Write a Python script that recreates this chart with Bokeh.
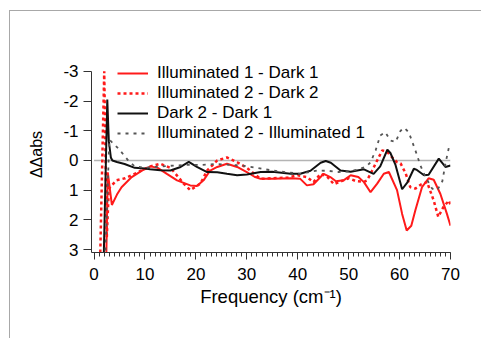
from bokeh.plotting import figure
from bokeh.models import Range1d, FixedTicker, SingleIntervalTicker, Legend, LegendItem
from bokeh.embed import file_html
from bokeh.resources import INLINE

# Illuminated 1 - Dark 1 (red solid)
ill1_dark1_x = [2.4, 2.7, 3.5, 4.5, 5.4, 7.4, 9.4, 11.1, 12.5, 14.3, 16.3, 18.9, 20.2, 21.5, 22.8, 24.2, 26.1, 28.1, 30, 31.5, 32.7, 35, 38.6, 40.5, 41.8, 43.1, 45.1, 46.4, 47.5, 49, 50.4, 51.9, 53, 54.3, 55.6, 56.9, 57.9, 59.5, 60.5, 61.4, 62.3, 63.1, 64.4, 65.7, 66.7, 68, 69.3, 70]
ill1_dark1_y = [3.3, 0.4, 1.5, 1.15, 0.9, 0.56, 0.34, 0.2, 0.25, 0.45, 0.67, 0.84, 0.86, 0.67, 0.34, 0.22, 0.11, 0.22, 0.39, 0.55, 0.62, 0.62, 0.6, 0.62, 0.84, 0.8, 0.45, 0.56, 0.7, 0.67, 0.5, 0.56, 0.73, 1.07, 0.78, 0.45, 0.39, 1.0, 1.8, 2.36, 2.2, 1.68, 0.9, 0.6, 0.65, 1.12, 1.8, 2.2]

# Illuminated 2 - Dark 2 (red dotted)
ill2_dark2_x = [1.2, 2.0, 2.5, 2.9, 4.4, 6.1, 8.7, 11.1, 13, 15, 16.5, 17.6, 18.9, 20.9, 22.2, 24.2, 26.1, 28.1, 30, 32.7, 35, 38, 40, 41.8, 43.1, 44.5, 45.8, 47.1, 48.5, 50, 51.5, 53, 53.6, 54.3, 55.6, 56.6, 57.6, 58.5, 59.5, 60.2, 61.2, 62.1, 63.1, 64.3, 65.4, 66.7, 67.6, 68.6, 69.7, 70]
ill2_dark2_y = [3.3, -3.0, 2.6, 0.95, 0.67, 0.6, 0.39, 0.2, 0.11, 0.25, 0.55, 0.78, 1.0, 0.78, 0.34, 0.0, -0.1, 0.06, 0.25, 0.62, 0.6, 0.58, 0.5, 0.56, 0.73, 0.45, 0.55, 0.8, 0.7, 0.6, 0.7, 0.72, 0.67, 0.45, 0.0, -0.34, -0.28, -0.11, 0.06, 0.1, 0.44, 0.9, 0.95, 0.8, 0.73, 1.35, 1.9, 1.57, 1.35, 1.5]

# Dark 2 - Dark 1 (black solid)
dark2_dark1_x = [1.9, 2.6, 2.9, 3.3, 3.6, 4.5, 6, 8, 10, 11, 13, 15, 17, 18.6, 20.2, 22.2, 24.2, 26.1, 28.1, 30, 32.7, 35, 38.6, 40.5, 42.5, 44.5, 45.5, 46.5, 48.4, 50.4, 53, 54.9, 56.2, 57.6, 58.2, 59.2, 60.5, 61.5, 62.8, 63.4, 64.8, 65.7, 67.7, 69, 70]
dark2_dark1_y = [3.3, -2.05, -0.65, -0.1, 0.0, 0.05, 0.12, 0.25, 0.27, 0.3, 0.33, 0.34, 0.22, 0.05, 0.22, 0.39, 0.4, 0.45, 0.5, 0.47, 0.39, 0.38, 0.45, 0.45, 0.35, 0.08, 0.02, 0.08, 0.34, 0.38, 0.3, 0.45, 0.2, -0.36, -0.25, 0.15, 0.97, 0.75, 0.28, 0.32, 0.5, 0.48, -0.06, 0.22, 0.17]

# Illuminated 2 - Illuminated 1 (grey dashed)
ill2_ill1_x = [2.2, 3.0, 4.8, 6.7, 8, 10, 12, 15, 18, 21, 24, 27, 29, 32, 35, 38, 40.5, 42, 43.8, 46, 48, 50, 52, 53.5, 54.3, 55.3, 56.2, 57.2, 58.2, 59.2, 60.2, 60.9, 61.8, 63.1, 64.1, 65.1, 66.4, 67.4, 68.4, 69, 69.7, 70]
ill2_ill1_y = [3.3, -0.7, -0.4, 0.0, 0.2, 0.25, 0.22, 0.18, 0.15, 0.15, 0.12, 0.15, 0.17, 0.25, 0.34, 0.4, 0.45, 0.4, 0.34, 0.35, 0.39, 0.37, 0.3, 0.2, 0.06, -0.34, -0.84, -0.95, -0.67, -0.62, -1.0, -1.1, -0.95, -0.34, 0.17, 0.56, 0.95, 1.0, 0.7, 0.11, -0.45, -0.5]

zero_x = [0, 70]
zero_y = [0, 0]

y_ticks = [-3, -2, -1, 0, 1, 2, 3]
y_tick_labels = ["-3", "-2", "-1", "0", "1", "2", "3"]

FONT = "Liberation Sans"

p = figure(output_backend="svg", toolbar_location=None,
           x_range=Range1d(-0.5, 70), y_range=Range1d(3.1, -3.5),
           frame_width=359, frame_height=196,
           min_border_left=81, min_border_right=31, min_border_top=45, min_border_bottom=86)
p.outline_line_color = None
p.grid.visible = False
p.background_fill_color = "white"
p.styles = {"border-top": "1px solid #a8a8a8", "border-left": "1px solid #a8a8a8",
            "margin-left": "9px", "margin-top": "10px"}

p.line(zero_x, zero_y, line_color="#b4b4b4", line_width=1.5)

r1 = p.line(ill1_dark1_x, ill1_dark1_y, line_color="#ff1a1a", line_width=2)
r2 = p.line(ill2_dark2_x, ill2_dark2_y, line_color="#ff1a1a", line_width=2.5, line_dash="3 3")
r3 = p.line(dark2_dark1_x, dark2_dark1_y, line_color="#111111", line_width=2)
r4 = p.line(ill2_ill1_x, ill2_ill1_y, line_color="#555555", line_width=1.8, line_dash="3 5")

# axes
p.xaxis.ticker = SingleIntervalTicker(interval=10, num_minor_ticks=10)
p.yaxis.ticker = FixedTicker(ticks=y_ticks)
p.yaxis.major_label_overrides = {t: s for t, s in zip(y_ticks, y_tick_labels)}
p.yaxis.bounds = (-3, 3.1)
for ax in (p.xaxis[0], p.yaxis[0]):
    ax.axis_line_color = "#333333"
    ax.major_tick_line_color = "#333333"
    ax.minor_tick_line_color = "#333333"
    ax.major_tick_in = 0
    ax.minor_tick_in = 0
    ax.major_label_text_font = FONT
    ax.major_label_text_font_size = "17px"
    ax.major_label_text_color = "#000000"
    ax.axis_label_text_font = FONT
    ax.axis_label_text_font_style = "normal"
    ax.axis_label_text_color = "#000000"

p.xaxis.major_tick_out = 7
p.xaxis.minor_tick_out = 4
p.xaxis.major_label_standoff = 8
p.xaxis.axis_label = "Frequency (cm⁻¹)"
p.xaxis.axis_label_text_font_size = "18.5px"
p.xaxis.axis_label_standoff = 3

p.yaxis.major_tick_out = 8
p.yaxis.minor_tick_out = 0
p.yaxis.minor_tick_line_color = None
p.yaxis.major_label_standoff = 5
p.yaxis.axis_label = "ΔΔabs"
p.yaxis.axis_label_text_font_size = "16px"
p.yaxis.axis_label_standoff = 15

legend = Legend(items=[
    LegendItem(label="Illuminated 1 - Dark 1", renderers=[r1]),
    LegendItem(label="Illuminated 2 - Dark 2", renderers=[r2]),
    LegendItem(label="Dark 2 - Dark 1", renderers=[r3]),
    LegendItem(label="Illuminated 2 - Illuminated 1", renderers=[r4]),
], location=(26, 109))
legend.border_line_color = None
legend.background_fill_alpha = 0
legend.padding = 0
legend.margin = 0
legend.spacing = 0
legend.glyph_width = 31
legend.glyph_height = 20
legend.label_height = 20
legend.label_standoff = 9
legend.label_text_font = FONT
legend.label_text_font_size = "17px"
legend.label_text_color = "#000000"
p.add_layout(legend, "center")

open("out.html", "w").write(file_html(p, INLINE))
